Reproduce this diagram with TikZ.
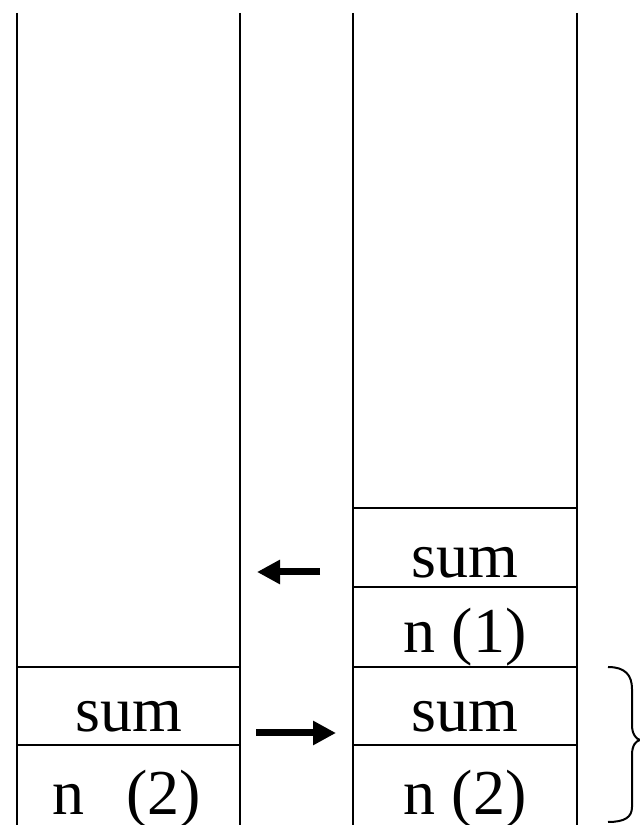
\documentclass[tikz,border=0pt]{standalone}
\usepackage{fontspec}
\setmainfont{Liberation Serif}
\usetikzlibrary{positioning, arrows.meta, calc}

\begin{document}
\begin{tikzpicture}[
  x=1pt, y=1pt,
  every node/.style={align=center},
  cell/.style      = {font=\fontsize{64}{70}\selectfont, anchor=base, inner sep=0pt},
  wall/.style      = {line width=2pt},
  movearrow/.style = {-{Triangle[length=23pt, width=23pt]}, line width=7pt},
]
\useasboundingbox (0,0) rectangle (640,825);

% ── Stack walls ───────────────────────────────────────────────────────────────
\coordinate (base) at (0,0);
\foreach \x/\n in {17/Lw, 240/Le, 353/Rw, 577/Re}{
  \coordinate (\n) at (\x,812);
  \draw[wall] (\n) -- (\n |- base);
}

% ── Frame rows ────────────────────────────────────────────────────────────────
\foreach \y in {158, 80}{
  \draw[wall] (Lw |- 0,\y) -- (Le |- 0,\y);
}
\foreach \y in {317, 238, 158, 80}{
  \draw[wall] (Rw |- 0,\y) -- (Re |- 0,\y);
}

% ── Cell contents ─────────────────────────────────────────────────────────────
\node[cell] (Lsum) at (128.5, 93) {sum};
\node[cell] (Ln)   at (126.5, 10) {n\hspace{26pt} (2)};

\node[cell] (Rsum1) at (465, 247) {sum};
\node[cell] (Rn1)   at (465, 172) {n (1)};
\node[cell] (Rsum2) at (465,  93) {sum};
\node[cell] (Rn2)   at (465,  10) {n (2)};

% ── Arrows ────────────────────────────────────────────────────────────────────
\coordinate (popS)  at (320, 253);
\coordinate (popE)  at (257, 253);
\coordinate (pushS) at (256,  92);
\coordinate (pushE) at (336,  92);
\draw[movearrow] (popS)  -- (popE);
\draw[movearrow] (pushS) -- (pushE);

% ── Brace ─────────────────────────────────────────────────────────────────────
\draw[line width=2pt]
  (608,158) .. controls (625,158) and (632,150) .. (632,136)
  -- (632,100) .. controls (632,91) and (636,86) .. (640,85)
  .. controls (636,84) and (632,80) .. (632,70)
  -- (632,18) .. controls (632,8) and (625,3) .. (608,3);

\end{tikzpicture}
\end{document}
